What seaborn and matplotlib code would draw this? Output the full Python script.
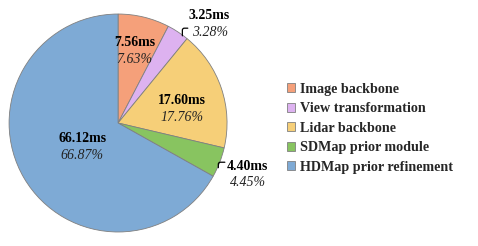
import numpy as np
import matplotlib
matplotlib.use("Agg")
import matplotlib.pyplot as plt
import seaborn as sns

# latency breakdown per module
modules = ["Image backbone", "View transformation", "Lidar backbone",
           "SDMap prior module", "HDMap prior refinement"]
times_ms = [7.56, 3.25, 17.60, 4.40, 66.12]
shares = [7.63, 3.28, 17.76, 4.45, 66.87]
colors = ["#F5A07A", "#DDB2F0", "#F6CF78", "#88C460", "#7EAAD5"]

sns.set_theme(style="white")
plt.rcParams["font.family"] = ["Liberation Serif", "DejaVu Serif"]

fig = plt.figure(figsize=(4.78, 2.46), dpi=100)
ax = fig.add_axes([0.017, 0.057, 0.460, 0.886])

wedges, _ = ax.pie(shares, colors=colors, startangle=90, counterclock=False,
                   radius=1, wedgeprops=dict(edgecolor="#808080", linewidth=0.6))
ax.set_aspect("equal")
ax.set_xlim(-1, 1)
ax.set_ylim(-1, 1)

# label placement (data units)
label_pos = [(0.15, 0.66), (0.84, 0.91), (0.59, 0.13), (1.19, -0.47), (-0.33, -0.22)]
for i, (x, y) in enumerate(label_pos):
    ax.text(x, y + 0.075, f"{times_ms[i]:.2f}ms", ha="center", va="center",
            fontsize=10, fontweight="bold", color="black")
    ax.text(x, y - 0.08, f"{shares[i]:.2f}%", ha="center", va="center",
            fontsize=10, style="italic", color="#222222")

# small leader hooks for the thin slices: (text side, pie edge)
hooks = [((0.64, 0.87), (0.59, 0.80)), ((0.98, -0.36), (0.92, -0.41))]
for start, edge in hooks:
    ax.annotate("", xy=edge, xytext=start,
                arrowprops=dict(arrowstyle="-", color="black", lw=0.9,
                                shrinkA=0, shrinkB=0,
                                connectionstyle="angle,angleA=0,angleB=90,rad=2"))

fig.legend(wedges, modules, loc="center left", bbox_to_anchor=(0.600, 0.478),
           frameon=False, borderpad=0, borderaxespad=0,
           prop=dict(size=10.2, weight="bold"),
           handlelength=0.6, handleheight=0.6, handletextpad=0.35,
           labelspacing=0.46)

fig.savefig("out.png", dpi=100)
